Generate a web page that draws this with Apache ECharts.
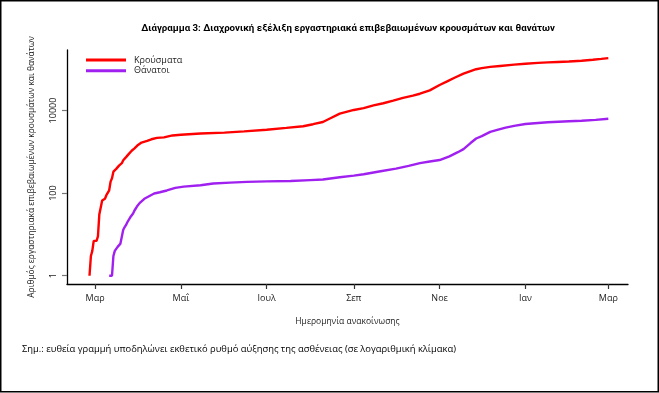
<!DOCTYPE html>
<html>
<head>
<meta charset="utf-8">
<script src="https://cdn.jsdelivr.net/npm/echarts@6/dist/echarts.min.js"></script>
<style>
html,body{margin:0;padding:0;background:#fff;}
#c{width:659px;height:393px;}
</style>
</head>
<body>
<div id="c"></div>
<script>
// ---- data ----
const caseDates = ['2020-02-26','2020-02-27','2020-02-28','2020-02-29','2020-03-01','2020-03-02','2020-03-03','2020-03-04','2020-03-05','2020-03-06','2020-03-07','2020-03-08','2020-03-09','2020-03-10','2020-03-11','2020-03-12','2020-03-13','2020-03-14','2020-03-15','2020-03-16','2020-03-17','2020-03-18','2020-03-19','2020-03-20','2020-03-21','2020-03-22','2020-03-23','2020-03-24','2020-03-25','2020-03-26','2020-03-27','2020-03-28','2020-03-29','2020-03-30','2020-03-31','2020-04-03','2020-04-07','2020-04-10','2020-04-14','2020-04-19','2020-04-25','2020-05-01','2020-05-15','2020-06-01','2020-06-15','2020-07-01','2020-07-15','2020-07-27','2020-08-03','2020-08-10','2020-08-15','2020-08-22','2020-09-01','2020-09-08','2020-09-15','2020-09-22','2020-09-29','2020-10-06','2020-10-13','2020-10-18','2020-10-25','2020-11-01','2020-11-06','2020-11-12','2020-11-18','2020-11-23','2020-11-27','2020-12-01','2020-12-07','2020-12-14','2020-12-24','2021-01-01','2021-01-10','2021-01-17','2021-01-24','2021-02-01','2021-02-10','2021-02-18','2021-02-24','2021-03-01'];
const caseValues = [1,3,4,7,7,7,9,31,45,66,73,73,89,99,117,190,228,331,331,387,418,464,495,530,624,695,743,821,892,966,1061,1156,1212,1314,1415,1673,1832,2011,2170,2235,2490,2591,2770,2918,3121,3432,3800,4150,4662,5270,6400,8381,10317,11386,13300,15000,17300,20300,23000,25500,30800,41500,50000,63000,78000,90000,100000,106000,114000,120000,129000,136000,142000,146000,150000,154000,160000,169000,178000,186000];

const deathDates = ['2020-03-11','2020-03-13','2020-03-14','2020-03-15','2020-03-17','2020-03-19','2020-03-20','2020-03-21','2020-03-22','2020-03-23','2020-03-24','2020-03-25','2020-03-26','2020-03-27','2020-03-28','2020-03-29','2020-03-30','2020-03-31','2020-04-02','2020-04-05','2020-04-08','2020-04-12','2020-04-16','2020-04-21','2020-04-27','2020-05-03','2020-05-15','2020-05-24','2020-06-05','2020-06-17','2020-07-01','2020-07-18','2020-08-01','2020-08-10','2020-08-22','2020-09-01','2020-09-08','2020-09-20','2020-10-01','2020-10-10','2020-10-18','2020-10-25','2020-11-01','2020-11-08','2020-11-14','2020-11-18','2020-11-23','2020-11-27','2020-12-01','2020-12-07','2020-12-12','2020-12-18','2020-12-24','2021-01-01','2021-01-10','2021-01-17','2021-02-01','2021-02-10','2021-02-20','2021-03-01'];
const deathValues = [1,1,3,4,5,6,6,13,15,17,20,22,26,28,32,38,43,49,59,73,83,98,105,116,134,144,155,171,180,187,192,196,206,213,242,266,286,338,391,455,534,581,632,778,979,1165,1630,2102,2406,3050,3400,3850,4260,4700,5000,5200,5500,5650,5950,6300];

const yTickValues = [1, 100, 10000];
const xTickDates = ['2020-03-01','2020-05-01','2020-07-01','2020-09-01','2020-11-01','2021-01-01','2021-03-01'];
const xTickLabels = ['Μαρ','Μαΐ','Ιουλ','Σεπ','Νοε','Ιαν','Μαρ'];

const seriesNames = ['Κρούσματα','Θάνατοι'];
const titleText = 'Διάγραμμα 3: Διαχρονική εξέλιξη εργαστηριακά επιβεβαιωμένων κρουσμάτων και θανάτων';
const xName = 'Ημερομηνία ανακοίνωσης';
const yName = 'Αριθμός εργαστηριακά επιβεβαιωμένων κρουσμάτων και θανάτων';
const noteText = 'Σημ.: ευθεία γραμμή υποδηλώνει εκθετικό ρυθμό αύξησης της ασθένειας (σε λογαριθμική κλίμακα)';

// ---- chart ----
function ts(s){ const p = s.split('-').map(Number); return Date.UTC(p[0], p[1]-1, p[2]); }
const xTickTs = xTickDates.map(ts);
const FONT = '"Open Sans", "Noto Sans", sans-serif';

const chart = echarts.init(document.getElementById('c'), null, {renderer:'canvas'});
chart.setOption({
  animation: false,
  backgroundColor: '#fff',
  title: {
    text: titleText,
    left: 348, top: 24, textAlign: 'center', padding: 0,
    textStyle: {fontFamily: 'Roboto, "Open Sans", sans-serif', fontSize: 9.7, fontWeight: 'bold', color: '#000'}
  },
  legend: {
    orient: 'vertical', left: 86, top: 55, padding: 0,
    itemWidth: 40, itemHeight: 3, itemGap: 0.7,
    icon: 'rect',
    data: seriesNames,
    textStyle: {fontFamily: FONT, fontSize: 9, color: '#222', lineHeight: 10, padding: [0,0,0,3]}
  },
  grid: {left: 67, top: 50, right: 31, bottom: 109, containLabel: false},
  xAxis: {
    type: 'value',
    min: ts('2020-02-10'), max: ts('2021-03-15'),
    name: xName, nameLocation: 'middle', nameGap: 33,
    nameTextStyle: {fontFamily: FONT, fontSize: 8.5, color: '#222'},
    axisLine: {show: true, lineStyle: {color: '#000', width: 1.3}},
    axisTick: {show: true, length: 5, customValues: xTickTs, lineStyle: {color: '#333', width: 1.2}},
    axisLabel: {
      customValues: xTickTs, margin: 10,
      fontFamily: FONT, fontSize: 9, color: '#222',
      formatter: function(v){ const i = xTickTs.indexOf(v); return i >= 0 ? xTickLabels[i] : ''; }
    },
    splitLine: {show: false}
  },
  yAxis: {
    type: 'log', logBase: 10,
    min: 0.631, max: 291700,
    name: yName, nameLocation: 'middle', nameGap: 31,
    nameTextStyle: {fontFamily: FONT, fontSize: 8.4, color: '#222'},
    axisLine: {show: true, lineStyle: {color: '#000', width: 1.3}},
    axisTick: {show: true, length: 5, customValues: yTickValues, lineStyle: {color: '#777', width: 1.2}},
    axisLabel: {
      customValues: yTickValues, rotate: 90, margin: 9,
      fontFamily: FONT, fontSize: 9, color: '#222',
      formatter: function(v){ return String(Math.round(v)); }
    },
    splitLine: {show: false}
  },
  series: [
    {
      name: seriesNames[0], type: 'line', showSymbol: false,
      color: '#FF0000',
      lineStyle: {width: 2.4, color: '#FF0000'},
      data: caseDates.map((d,i) => [ts(d), caseValues[i]])
    },
    {
      name: seriesNames[1], type: 'line', showSymbol: false,
      color: '#A020F0',
      lineStyle: {width: 2.4, color: '#A020F0'},
      data: deathDates.map((d,i) => [ts(d), deathValues[i]])
    }
  ],
  graphic: [
    {type: 'rect', shape: {x: 0.75, y: 0.75, width: 657.5, height: 391}, style: {fill: 'none', stroke: '#000', lineWidth: 1.5}, silent: true},
    {type: 'text', left: 22, top: 345, style: {text: noteText, fontFamily: FONT, fontSize: 9.4, fill: '#000'}}
  ]
});
</script>
</body>
</html>
